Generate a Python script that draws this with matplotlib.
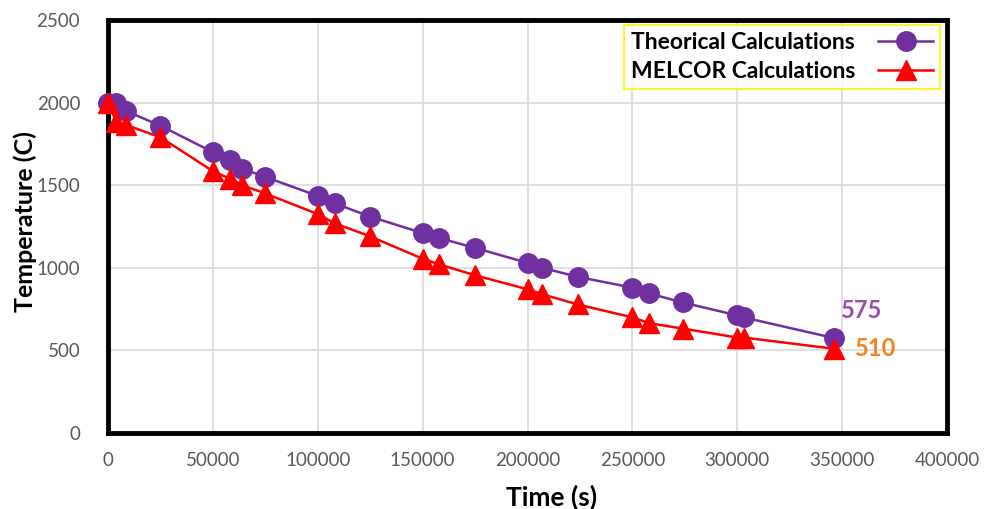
import matplotlib
matplotlib.use("Agg")
import matplotlib.pyplot as plt

time_s = [0, 4000, 8500, 25000, 50000, 58000, 64000, 75000, 100000, 108000,
          125000, 150000, 158000, 175000, 200000, 207000, 224000, 250000,
          258000, 274000, 300000, 303000, 346000]
theoretical = [2000, 1995, 1950, 1860, 1700, 1650, 1600, 1550, 1435, 1390,
               1310, 1210, 1180, 1120, 1030, 1000, 945, 880,
               845, 790, 712, 700, 575]
melcor = [2000, 1885, 1865, 1790, 1585, 1540, 1500, 1450, 1325, 1270,
          1190, 1055, 1020, 955, 870, 840, 778, 700,
          665, 632, 578, 578, 510]

series_names = ["Theorical Calculations", "MELCOR Calculations"]
x_ticks = [0, 50000, 100000, 150000, 200000, 250000, 300000, 350000, 400000]
y_ticks = [0, 500, 1000, 1500, 2000, 2500]
end_labels = ["575", "510"]

plt.rcParams['font.family'] = ['Lato', 'DejaVu Sans']

fig = plt.figure(figsize=(9.87, 5.09), dpi=100)
ax = fig.add_axes([108/987, 1 - 433/509, (947-108)/987, (433-20)/509])

purple = "#7030A0"
red = "#FF0000"

ax.plot(time_s, theoretical, color=purple, lw=1.8, marker="o", ms=14,
        label=series_names[0], clip_on=False, zorder=3)
ax.plot(time_s, melcor, color=red, lw=1.8, marker="^", ms=15,
        label=series_names[1], clip_on=False, zorder=4)

ax.set_xlim(0, 400000)
ax.set_ylim(0, 2500)
ax.set_xticks(x_ticks)
ax.set_yticks(y_ticks)
ax.set_xticklabels([str(v) for v in x_ticks])
ax.set_yticklabels([str(v) for v in y_ticks])
ax.tick_params(axis="both", length=0, labelsize=13.5, labelcolor="#595959")
ax.tick_params(axis="x", pad=14)
ax.tick_params(axis="y", pad=20)
ax.grid(True, color="#D9D9D9", lw=1.2)
ax.set_axisbelow(True)
for s in ax.spines.values():
    s.set_linewidth(3.5)
    s.set_color("black")

ax.set_xlabel("Time (s)", fontsize=19, fontweight="bold", color="black")
ax.xaxis.set_label_coords((552-108)/(947-108), -(497-433)/(433-20))
ax.xaxis.label.set_verticalalignment("center")
ax.set_ylabel("Temperature (C)", fontsize=18, fontweight="bold", color="black")
ax.yaxis.set_label_coords(-(108-25)/(947-108), (433-222)/(433-20))
ax.yaxis.label.set_verticalalignment("center")

ax.annotate(end_labels[0], (time_s[-1], theoretical[-1]), xytext=(20, 20),
            textcoords="offset points", color="#9B4DAA", fontsize=17,
            fontweight="bold", ha="center", va="center")
ax.annotate(end_labels[1], (time_s[-1], melcor[-1]), xytext=(30, 0),
            textcoords="offset points", color="#F58220", fontsize=17,
            fontweight="bold", ha="center", va="center")

leg = ax.legend(loc="upper right", bbox_to_anchor=(940/987, 1 - 25/509),
                bbox_transform=fig.transFigure, markerfirst=False,
                frameon=True, fancybox=False, fontsize=16.5, handlelength=2.4,
                borderpad=0.3, labelspacing=0.35, handletextpad=1.0,
                borderaxespad=0)
leg.get_frame().set_edgecolor("#FFF200")
leg.get_frame().set_linewidth(1.5)
for t in leg.get_texts():
    t.set_fontweight("bold")

fig.savefig("out.png", dpi=100)
